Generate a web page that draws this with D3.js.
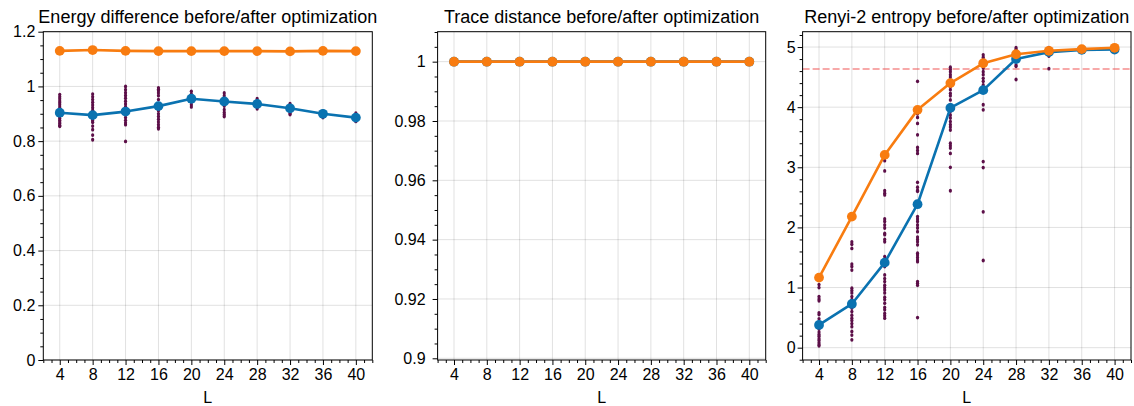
<!DOCTYPE html>
<html><head><meta charset="utf-8">
<script src="https://cdn.jsdelivr.net/npm/d3@7/dist/d3.min.js"></script>
<style>
html,body{margin:0;padding:0;background:#fff;}
svg{display:block;}
text{font-family:"Liberation Sans",Arial,Helvetica,sans-serif;}
</style></head>
<body>
<svg id="chart" width="1134" height="406"></svg>
<script>
// ---------------- data ----------------
const Ls = [4, 8, 12, 16, 20, 24, 28, 32, 36, 40];
const xTicks = [4, 8, 12, 16, 20, 24, 28, 32, 36, 40];
const xTickLabels = ["4","8","12","16","20","24","28","32","36","40"];

// Panel 1: energy difference
const energyBefore = [0.904, 0.895, 0.908, 0.928, 0.955, 0.945, 0.936, 0.920, 0.900, 0.886];
const energyAfter  = [1.130, 1.133, 1.130, 1.129, 1.129, 1.129, 1.129, 1.128, 1.130, 1.129];
const energyScatter = [
  [0.970,0.962,0.955,0.947,0.940,0.933,0.925,0.918,0.910,0.903,0.897,0.890,0.883,0.876,0.870,0.864,0.858,0.854],
  [0.972,0.962,0.952,0.942,0.932,0.922,0.912,0.903,0.896,0.889,0.881,0.875,0.869,0.855,0.842,0.822,0.805],
  [1.000,0.988,0.977,0.967,0.957,0.946,0.936,0.926,0.916,0.906,0.896,0.886,0.876,0.867,0.860,0.799],
  [0.995,0.990,0.984,0.976,0.966,0.952,0.935,0.922,0.911,0.900,0.890,0.880,0.870,0.860,0.851,0.845],
  [0.982,0.972,0.963,0.953,0.943,0.933,0.925],
  [0.976,0.966,0.952,0.940,0.928,0.915,0.905,0.897,0.890],
  [0.955,0.945,0.935,0.925,0.918],
  [0.937,0.930,0.920,0.910,0.902,0.897],
  [0.910,0.902,0.893,0.886],
  [0.902,0.892,0.880,0.872]
];
const energyYTicks = [0, 0.2, 0.4, 0.6, 0.8, 1.0, 1.2];
const energyYLabels = ["0","0.2","0.4","0.6","0.8","1","1.2"];

// Panel 2: trace distance
const traceBefore = [1, 1, 1, 1, 1, 1, 1, 1, 1, 1];
const traceAfter  = [1, 1, 1, 1, 1, 1, 1, 1, 1, 1];
const traceYTicks = [0.9, 0.92, 0.94, 0.96, 0.98, 1.0];
const traceYLabels = ["0.9","0.92","0.94","0.96","0.98","1"];

// Panel 3: Renyi-2 entropy
const renyiBefore = [0.378, 0.727, 1.414, 2.386, 3.988, 4.283, 4.800, 4.915, 4.953, 4.958];
const renyiAfter  = [1.165, 2.180, 3.206, 3.955, 4.400, 4.730, 4.880, 4.937, 4.965, 4.987];
const renyiScatter = [
  [1.05,1.00,0.85,0.81,0.78,0.58,0.55,0.48,0.42,0.38,0.31,0.26,0.22,0.19,0.15,0.12,0.08,0.05,0.03],
  [1.76,1.72,1.65,1.39,1.35,1.29,0.99,0.95,0.91,0.85,0.80,0.74,0.70,0.66,0.60,0.54,0.49,0.45,0.40,0.35,0.27,0.21,0.13],
  [3.11,2.94,2.61,2.57,2.54,2.14,2.10,2.04,1.99,1.90,1.88,1.80,1.76,1.515,1.47,1.43,1.35,1.21,1.15,1.10,1.04,1.00,0.96,0.91,0.84,0.80,0.74,0.67,0.63,0.57,0.53,0.49],
  [4.43,3.89,3.83,3.73,3.54,3.33,3.28,3.23,2.75,2.67,2.62,2.60,2.18,2.14,2.10,2.04,1.99,1.93,1.84,1.80,1.76,1.71,1.57,1.54,1.50,1.46,1.43,1.10,1.07,1.04,0.50],
  [4.665,4.63,4.59,4.54,4.50,4.45,4.40,4.34,4.29,4.23,4.19,4.12,4.04,3.93,3.87,3.82,3.76,3.71,3.67,3.62,3.40,3.36,3.32,3.23,3.00,2.61],
  [4.87,4.83,4.79,4.73,4.65,4.59,4.54,4.48,4.43,4.37,4.28,4.04,3.955,3.095,2.995,2.26,1.45],
  [4.99,4.965,4.925,4.87,4.815,4.76,4.70,4.68,4.46],
  [4.99,4.85,4.64],
  [4.96],
  [4.97]
];
const renyiYTicks = [0, 1, 2, 3, 4, 5];
const renyiYLabels = ["0","1","2","3","4","5"];
const renyiReference = 4.634;

const titles = ["Energy difference before/after optimization",
                "Trace distance before/after optimization",
                "Renyi-2 entropy before/after optimization"];

// ---------------- drawing ----------------
const COLORS = {blue:"#0a72b0", orange:"#f87c10", scatter:"#5c0f48", grid:"rgba(0,0,0,0.12)"};
const svg = d3.select("#chart");
const TOP = 31.7, BOTTOM = 360;

const panels = [
  {x0:43.3, x1:372.3, ydom:[0,1.2], yticks:energyYTicks, ylabels:energyYLabels, yminor:0.05,
   before:energyBefore, after:energyAfter, scatter:energyScatter, title:titles[0], labelPad:3},
  {x0:437.6, x1:765.7, ydom:[0.89943,1.0101], yticks:traceYTicks, ylabels:traceYLabels, yminor:0.005,
   before:traceBefore, after:traceAfter, scatter:null, title:titles[1], labelPad:7},
  {x0:802.6, x1:1131, ydom:[-0.205,5.255], yticks:renyiYTicks, ylabels:renyiYLabels, yminor:0.2,
   before:renyiBefore, after:renyiAfter, scatter:renyiScatter, title:titles[2], labelPad:2, ref:renyiReference}
];

function minorTicks(dom, step, majors){
  const out=[];
  const start=Math.ceil(dom[0]/step-1e-9), end=Math.floor(dom[1]/step+1e-9);
  for(let i=start;i<=end;i++){
    const v=+(i*step).toFixed(6);
    if(!majors.some(m=>Math.abs(m-v)<1e-9)) out.push(v);
  }
  return out;
}

panels.forEach(p=>{
  const x = d3.scaleLinear().domain([2,42]).range([p.x0,p.x1]);
  const y = d3.scaleLinear().domain(p.ydom).range([BOTTOM,TOP]);
  const g = svg.append("g");

  // grid
  g.append("g").selectAll("line").data(xTicks).join("line")
    .attr("x1",d=>x(d)).attr("x2",d=>x(d)).attr("y1",TOP).attr("y2",BOTTOM)
    .attr("stroke",COLORS.grid).attr("stroke-width",1);
  g.append("g").selectAll("line").data(p.yticks).join("line")
    .attr("x1",p.x0).attr("x2",p.x1).attr("y1",d=>y(d)).attr("y2",d=>y(d))
    .attr("stroke",COLORS.grid).attr("stroke-width",1);

  // axes: major
  const xAxis = d3.axisBottom(x).tickValues(xTicks).tickSize(5).tickPadding(4)
    .tickFormat((d,i)=>xTickLabels[i]);
  g.append("g").attr("transform",`translate(0,${BOTTOM})`).call(xAxis);
  const xMinor = minorTicks([2,42],1,xTicks);
  g.append("g").attr("transform",`translate(0,${BOTTOM})`)
    .call(d3.axisBottom(x).tickValues(xMinor).tickSize(3).tickFormat(""));
  const yAxis = d3.axisLeft(y).tickValues(p.yticks).tickSize(5).tickPadding(p.labelPad)
    .tickFormat((d,i)=>p.ylabels[i]);
  g.append("g").attr("transform",`translate(${p.x0},0)`).call(yAxis);
  const yMinor = minorTicks(p.ydom,p.yminor,p.yticks);
  g.append("g").attr("transform",`translate(${p.x0},0)`)
    .call(d3.axisLeft(y).tickValues(yMinor).tickSize(3).tickFormat(""));
  g.selectAll(".domain").remove();
  g.selectAll(".tick line").attr("stroke","#000").attr("stroke-width",1);
  g.selectAll(".tick text").attr("font-size",16).attr("fill","#000")
    .attr("font-family",'"Liberation Sans",Arial,sans-serif');

  // reference dashed line
  if(p.ref!==undefined){
    g.append("line").attr("x1",p.x0).attr("x2",p.x1).attr("y1",y(p.ref)).attr("y2",y(p.ref))
      .attr("stroke","rgba(240,80,80,0.65)").attr("stroke-width",1.4).attr("stroke-dasharray","7,3");
  }

  // scatter
  if(p.scatter){
    const pts=[];
    p.scatter.forEach((arr,i)=>arr.forEach(v=>pts.push([Ls[i],v])));
    g.append("g").selectAll("ellipse").data(pts).join("ellipse")
      .attr("cx",d=>x(d[0])).attr("cy",d=>y(d[1])).attr("rx",1.6).attr("ry",1.9)
      .attr("fill",COLORS.scatter);
  }

  // lines
  const line = d3.line().x((d,i)=>x(Ls[i])).y(d=>y(d));
  [[p.before,COLORS.blue],[p.after,COLORS.orange]].forEach(([vals,c])=>{
    g.append("path").datum(vals).attr("d",line).attr("fill","none")
      .attr("stroke",c).attr("stroke-width",2.6).attr("stroke-linejoin","round");
    g.append("g").selectAll("circle").data(vals).join("circle")
      .attr("cx",(d,i)=>x(Ls[i])).attr("cy",d=>y(d)).attr("r",4.9).attr("fill",c);
  });

  // frame
  g.append("rect").attr("x",p.x0).attr("y",TOP).attr("width",p.x1-p.x0).attr("height",BOTTOM-TOP)
    .attr("fill","none").attr("stroke","#000").attr("stroke-width",1);

  // title
  g.append("text").attr("x",(p.x0+p.x1)/2).attr("y",23).attr("text-anchor","middle")
    .attr("font-size",18).attr("fill","#000").text(p.title);
  // x label
  g.append("text").attr("x",(p.x0+p.x1)/2).attr("y",403).attr("text-anchor","middle")
    .attr("font-size",16).attr("fill","#000").text("L");
});
</script>
</body></html>
